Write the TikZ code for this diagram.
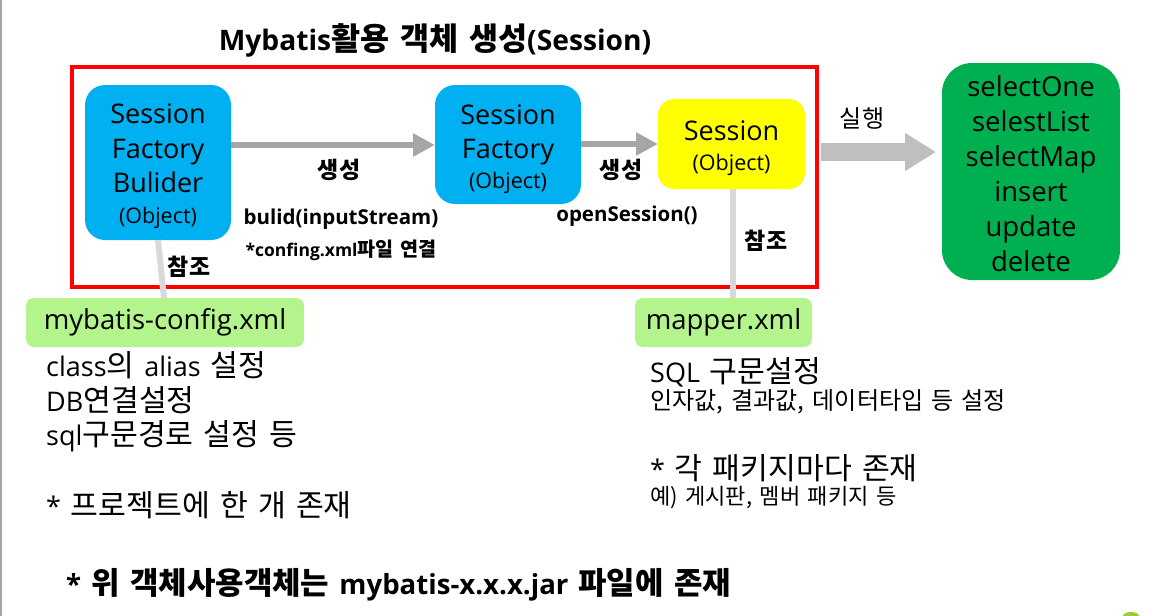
\documentclass[tikz,border=0pt]{standalone}
\usepackage{fontspec}
\setmainfont[WordSpace=1.4]{Open Sans}
\newfontfamily\krfont[Scale=1.12,WordSpace=1.5]{Noto Sans CJK KR}
\newcommand{\kr}[1]{{\krfont #1}}
\usetikzlibrary{arrows.meta}
\definecolor{cyanbox}{HTML}{00B0F0}
\definecolor{yelbox}{HTML}{FFFF00}
\definecolor{grnbox}{HTML}{00B050}
\definecolor{lgrn}{HTML}{B3F58C}
\definecolor{arrgray}{HTML}{A6A6A6}
\definecolor{biggray}{HTML}{BFBFBF}
\definecolor{refgray}{HTML}{D9D9D9}
\definecolor{cornergrn}{HTML}{9BCB3B}
\tikzset{
  obj/.style={rounded corners=20pt, inner sep=0pt, align=center},
  bigtxt/.style={font=\fontsize{27}{34.5}\selectfont},
  lbl/.style={font=\bfseries\fontsize{20.5}{24}\selectfont, inner sep=0pt},
  flow/.style={draw=arrgray, line width=6pt, -{Triangle[length=22pt,width=22pt]}},
  refline/.style={draw=refgray, line width=6pt},
  xmlbox/.style={fill=lgrn, rounded corners=8pt, inner sep=0pt, font=\fontsize{27.5}{30}\selectfont},
  body/.style={anchor=west, align=left, inner sep=0pt}
}
\newcommand{\objsmall}{\fontsize{21.5}{24}\selectfont}
\begin{document}
\begin{tikzpicture}[x=1pt,y=-1pt]
\useasboundingbox (0,0) rectangle (1163,616);
\fill[white] (0,0) rectangle (1163,616);
\draw[gray!70, line width=2.5pt] (1,0) -- (1,616);

% title
\node[font=\bfseries\fontsize{28.2}{32}\selectfont, inner sep=0pt] (title) at (435,40) {Mybatis\kr{활용 객체 생성}(Session)};

% red frame
\draw[red, line width=3.2pt] (72,67) rectangle (817,287);

% boxes
\node[obj, fill=cyanbox, minimum width=146pt, minimum height=155pt] (sfb) at (158,162.5) {};
\node[bigtxt, align=center, inner sep=0pt] (sfbt) at (158,166) {Session\\Factory\\Bulider\\[-4pt]{\objsmall (Object)}};
\node[obj, fill=cyanbox, minimum width=146pt, minimum height=119pt] (sf) at (508,144.5) {};
\node[bigtxt, align=center, inner sep=0pt] (sft) at (508,149) {Session\\Factory\\[-5pt]{\objsmall (Object)}};
\node[obj, rounded corners=16pt, fill=yelbox, minimum width=147pt, minimum height=90pt] (ses) at (731.5,144) {};
\node[bigtxt, align=center, inner sep=0pt] (sest) at (731.5,148) {Session\\[-5pt]{\objsmall (Object)}};
\node[obj, rounded corners=30pt, fill=grnbox, minimum width=178pt, minimum height=217pt] (ops) at (1031,171.5) {};
\node[font=\fontsize{27.5}{35}\selectfont, align=center, inner sep=0pt] (opst) at (1031,174) {selectOne\\selestList\\selectMap\\insert\\update\\delete};

% xml boxes
\node[xmlbox, minimum width=278pt, minimum height=49pt] (cfg) at (165,322.5) {mybatis-config.xml};
\node[xmlbox, minimum width=177pt, minimum height=49pt] (map) at (723.5,322.5) {mapper.xml};

% connectors
\coordinate (a1s) at (231,145);
\coordinate (a1e) at (435,145);
\draw[flow] (a1s) -- (a1e);
\coordinate (a2s) at (581,144);
\coordinate (a2e) at (658,144);
\draw[flow] (a2s) -- (a2e);

\coordinate (r1s) at (158,240);
\coordinate (r1e) at (164,298);
\draw[refline] (r1s) -- (r1e);
\coordinate (r2s) at (733,189);
\coordinate (r2e) at (733,298);
\draw[refline] (r2s) -- (r2e);

\coordinate (bas) at (821,152);
\coordinate (bae) at (936,152);
\draw[draw=biggray, line width=18pt, -{Triangle[length=31pt,width=36pt]}] (bas) -- (bae);

% labels
\node[lbl] (l1) at (339,170) {\kr{생성}};
\node[lbl] (l2) at (341,219) {bulid(inputStream)};
\node[lbl, font=\bfseries\fontsize{17.5}{20}\selectfont] (l3) at (341,250) {*confing.xml\kr{파일 연결}};
\node[lbl] (l4) at (621,170) {\kr{생성}};
\node[lbl] (l5) at (627,216) {openSession()};
\node[lbl] (l6) at (189,267) {\kr{참조}};
\node[lbl] (l7) at (766,241) {\kr{참조}};
\node[font=\fontsize{21.5}{24}\selectfont, inner sep=0pt] (l8) at (862,118) {\kr{실행}};

% descriptions
\node[body, font=\fontsize{27}{34.5}\selectfont] (d1) at (46,402) {class\kr{의} alias \kr{설정}\\DB\kr{연결설정}\\sql\kr{구문경로 설정 등}};
\node[body, font=\fontsize{27}{30}\selectfont] (d2) at (46,505) {* \kr{프로젝트에 한 개 존재}};
\node[body, font=\fontsize{27}{30}\selectfont] (d3) at (650,372) {SQL \kr{구문설정}};
\node[body, font=\fontsize{21.5}{24}\selectfont] (d4) at (650,402) {\kr{인자값, 결과값, 데이터타입 등 설정}};
\node[body, font=\fontsize{27}{30}\selectfont] (d5) at (650,468) {* \kr{각 패키지마다 존재}};
\node[body, font=\fontsize{19.7}{24}\selectfont] (d6) at (650,498) {\kr{예) 게시판, 멤버 패키지 등}};
\node[body, font=\bfseries\fontsize{27.6}{32}\selectfont] (d7) at (66,585) {* \kr{위 객체사용객체는} mybatis-x.x.x.jar \kr{파일에 존재}};

% corner fragment
\fill[cornergrn] (1131,616) ellipse (8pt and 4pt);
\end{tikzpicture}
\end{document}
